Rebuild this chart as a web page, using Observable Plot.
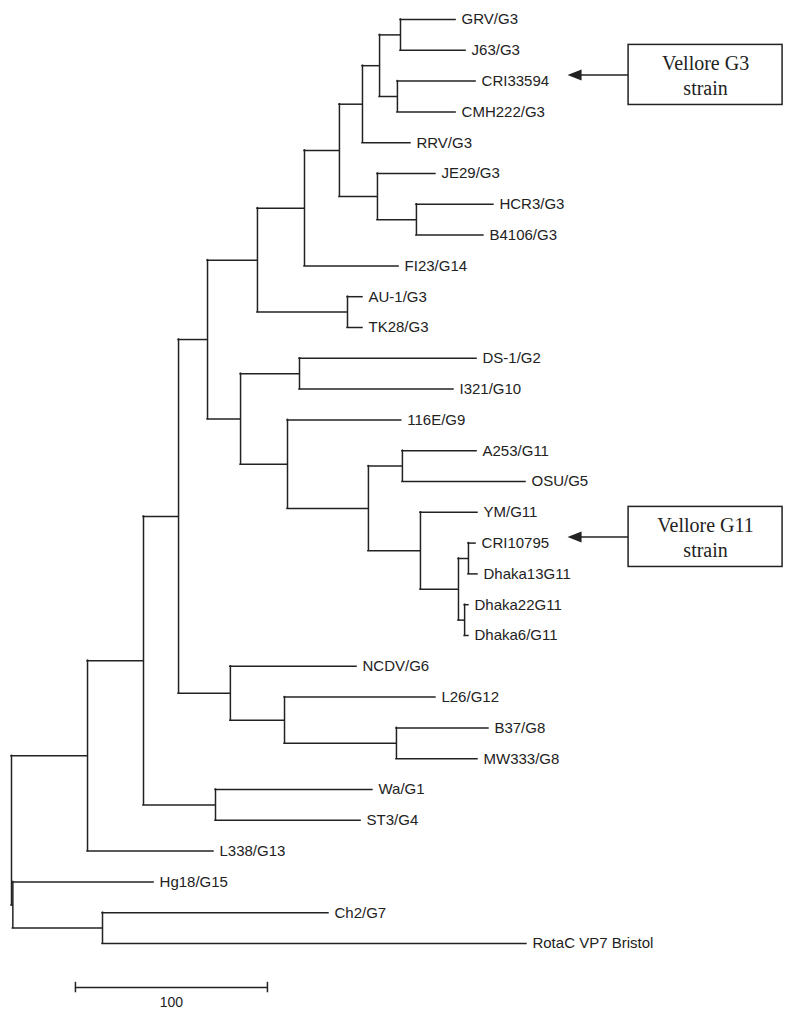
<!DOCTYPE html>
<html><head><meta charset="utf-8">
<script src="https://cdn.jsdelivr.net/npm/d3@7"></script>
<script src="https://cdn.jsdelivr.net/npm/@observablehq/plot@0.6"></script>
<style>body{margin:0;background:#fff}</style>
</head><body><div id="chart"></div>
<script>
// Leaves, top to bottom: name, parent node, tip depth (branch-length units; scale bar = 100)
const leafNames = ["GRV/G3","J63/G3","CRI33594","CMH222/G3","RRV/G3","JE29/G3","HCR3/G3","B4106/G3","FI23/G14","AU-1/G3","TK28/G3","DS-1/G2","I321/G10","116E/G9","A253/G11","OSU/G5","YM/G11","CRI10795","Dhaka13G11","Dhaka22G11","Dhaka6/G11","NCDV/G6","L26/G12","B37/G8","MW333/G8","Wa/G1","ST3/G4","L338/G13","Hg18/G15","Ch2/G7","RotaC VP7 Bristol"];
const leafParents = ["nJ","nJ","nK","nK","nH","nL","nM","nM","nF","nN","nN","nP","nP","nQ","nS","nS","nT","nV","nV","nW","nW","nX","nY","nZ","nZ","nWa","nWa","nA","nOut","nCh","nCh"];
const leafDepths = [231.3,236.5,241.7,231.3,207.8,220.8,251.0,245.8,201.6,182.8,182.8,242.2,230.2,203.0,242.2,267.7,242.7,241.7,242.7,238.0,238.0,179.7,220.8,248.4,242.7,188.0,181.8,105.2,74.0,165.1,268.2];

// Internal nodes: id, parent, depth
const nodeIds     = ["root","nA","nOut","nB","nC","nD","nE","nF","nG","nH","nI","nJ","nK","nL","nM","nN","nO","nP","nQ","nR","nS","nT","nU","nV","nW","nX","nY","nZ","nWa","nCh"];
const nodeParents = [null,"root","root","nA","nB","nC","nD","nE","nF","nG","nH","nI","nI","nG","nL","nE","nD","nO","nO","nQ","nR","nR","nT","nU","nU","nC","nX","nY","nB","nOut"];
const nodeDepths  = [0,39.6,0.7,68.75,87.0,102.1,128.1,152.6,170.8,182.8,191.7,202.6,201.0,190.6,210.9,175.0,119.3,150.0,143.75,185.9,203.6,213.0,232.8,238.0,236.0,114.0,142.2,200.5,106.25,47.4];

// Annotated strains
const annotLeaves = ["CRI33594","CRI10795"];
const annotTexts = ["Vellore G3\nstrain","Vellore G11\nstrain"];

// Scale bar
const scaleLength = 100;
const scaleLabel = "100";

// ---- build tree ----
const nodes = new Map();
nodeIds.forEach((id,i)=>nodes.set(id,{id,parent:nodeParents[i],x:nodeDepths[i],children:[],leaf:false}));
leafNames.forEach((n,i)=>nodes.set(n,{id:n,parent:leafParents[i],x:leafDepths[i],children:[],leaf:true,y:i}));
for (const n of nodes.values()) if (n.parent) nodes.get(n.parent).children.push(n);
function setY(n){
  if (n.leaf) return n.y;
  const ys = n.children.map(setY);
  n.y1 = Math.min(...ys); n.y2 = Math.max(...ys);
  n.y = (n.y1 + n.y2) / 2;
  return n.y;
}
setY(nodes.get("root"));
const all = [...nodes.values()];
const horiz = all.filter(n=>n.parent).map(n=>({y:n.y, x1:nodes.get(n.parent).x, x2:n.x}));
const vert = all.filter(n=>!n.leaf).map(n=>({x:n.x, y1:n.y1, y2:n.y2}));
const leaves = all.filter(n=>n.leaf);
const annots = annotLeaves.map((l,i)=>({y: nodes.get(l).y - 0.2, text: annotTexts[i]}));

const scaleY = 31.43, scaleX0 = 33.3;
const scaleBar = [{y: scaleY, x1: scaleX0, x2: scaleX0 + scaleLength}];
const scaleTicks = [scaleX0, scaleX0 + scaleLength];

const arrowHead = {draw(ctx){ ctx.moveTo(0,0); ctx.lineTo(14,-5.5); ctx.lineTo(14,5.5); ctx.closePath(); }};

const ink = "#222";
const sw = 1.5;
const chart = Plot.plot({
  width: 794, height: 1015,
  marginTop: 0, marginRight: 0, marginBottom: 0, marginLeft: 0,
  x: {domain: [0, 400], range: [11, 779], axis: null},
  y: {domain: [0, 30], range: [19, 943], axis: null},
  marks: [
    Plot.ruleY(horiz, {y:"y", x1:"x1", x2:"x2", stroke: ink, strokeWidth: sw, strokeLinecap:"square"}),
    Plot.ruleX(vert, {x:"x", y1:"y1", y2:"y2", stroke: ink, strokeWidth: sw, strokeLinecap:"square"}),
    Plot.text(leaves, {x:"x", y:"y", text:"id", dx: 6, textAnchor:"start", fontSize: 15, fontFamily:"Liberation Sans, Arial, sans-serif", fill: ink}),
    // scale bar
    Plot.ruleY(scaleBar, {y:"y", x1:"x1", x2:"x2", stroke: ink, strokeWidth: sw}),
    Plot.ruleX(scaleTicks, {x: d=>d, y1: scaleY - 0.17, y2: scaleY + 0.17, stroke: ink, strokeWidth: sw}),
    Plot.text([scaleLabel], {x: scaleX0 + scaleLength/2, y: scaleY + 0.5, text: d=>d, fontSize: 14, fontFamily:"Liberation Sans, Arial, sans-serif", fill: ink}),
    // annotation arrows and boxes
    Plot.ruleY(annots, {y:"y", x1: ()=>296, x2: ()=>321.4, stroke: ink, strokeWidth: sw}),
    Plot.dot(annots, {x: ()=>289.6, y:"y", symbol: arrowHead, r: 5, fill: ink, stroke: "none"}),
    Plot.rect(annots, {x1: ()=>321.4, x2: ()=>401.6, y1: d=>d.y-0.975, y2: d=>d.y+0.975, fill:"white", stroke: ink, strokeWidth: sw}),
    Plot.text(annots, {x: ()=>361.5, y:"y", text:"text", fontSize: 20, lineHeight: 1.25, fontFamily:"Liberation Serif, Times New Roman, serif", fill: ink})
  ]
});
document.getElementById("chart").appendChild(chart);
</script>
</body></html>
